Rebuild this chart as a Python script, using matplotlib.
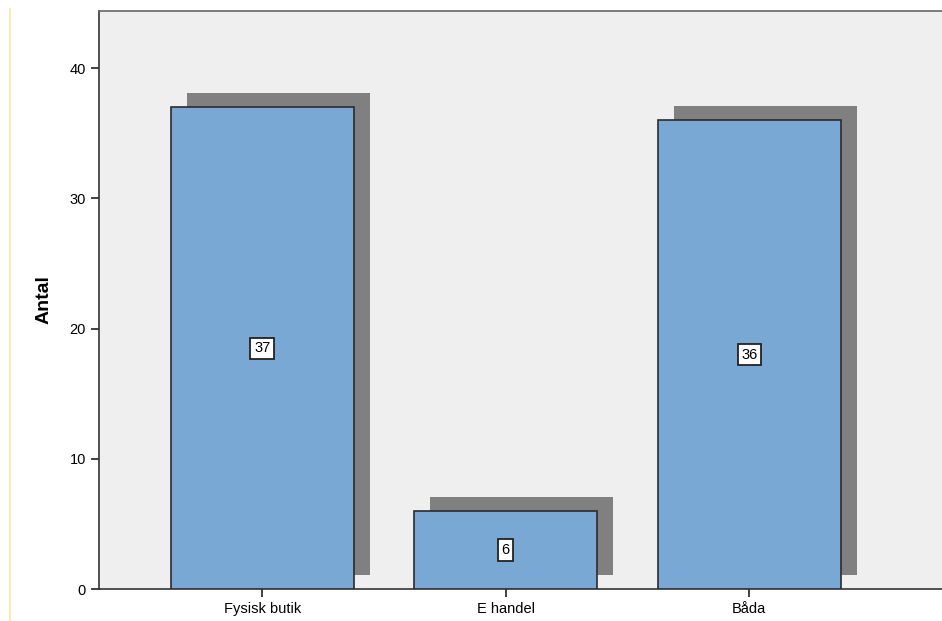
import matplotlib
matplotlib.use("Agg")
import matplotlib.pyplot as plt
from matplotlib.lines import Line2D

plt.rcParams["font.family"] = ["Liberation Sans", "DejaVu Sans"]

categories = ["Fysisk butik", "E handel", "Båda"]
counts = [37, 6, 36]

BAR_W = 0.75
SHADOW_DX = 0.066   # shadow shift to the right (category units)
SHADOW_DY = 1.07    # shadow shift upwards (count units)

fig = plt.figure(figsize=(9.42, 6.21), dpi=100)
ax = fig.add_axes([0.1051, 0.0515, 0.8949 + 0.01, 0.9308])
ax.set_facecolor("#EFEFEF")

x = list(range(len(categories)))

# drop shadows behind the bars
ax.bar([i + SHADOW_DX for i in x], counts, width=BAR_W, bottom=SHADOW_DY,
       color="#808080", edgecolor="none", zorder=2)
ax.bar(x, counts, width=BAR_W, color="#79A8D5", edgecolor="#2B2B2B",
       linewidth=1.2, zorder=3)

for i, c in zip(x, counts):
    ax.text(i, c / 2, f"{c}", ha="center", va="center", fontsize=10.5, zorder=4,
            bbox=dict(boxstyle="square,pad=0.25", fc="white", ec="#222222", lw=1.3))

ax.set_xlim(-0.67, 2.83)
ax.set_ylim(0, 44.4)
ax.set_yticks([0, 10, 20, 30, 40])
ax.set_xticks(x)
ax.set_xticklabels(categories)
ax.tick_params(axis="both", labelsize=10.5, length=6, width=1.2, color="#222222")
ax.set_ylabel("Antal", fontsize=14, fontweight="bold", labelpad=12)

ax.spines["right"].set_visible(False)
ax.spines["left"].set_color("#333333")
ax.spines["bottom"].set_color("#333333")
ax.spines["top"].set_color("#666666")
for s in ax.spines.values():
    s.set_linewidth(1.2)

# thin yellow rule on the far left
fig.add_artist(Line2D([0.0106, 0.0106], [0.0, 0.985], transform=fig.transFigure,
                      color="#FBE9A0", lw=1.2))

fig.savefig("out.png", dpi=100)
